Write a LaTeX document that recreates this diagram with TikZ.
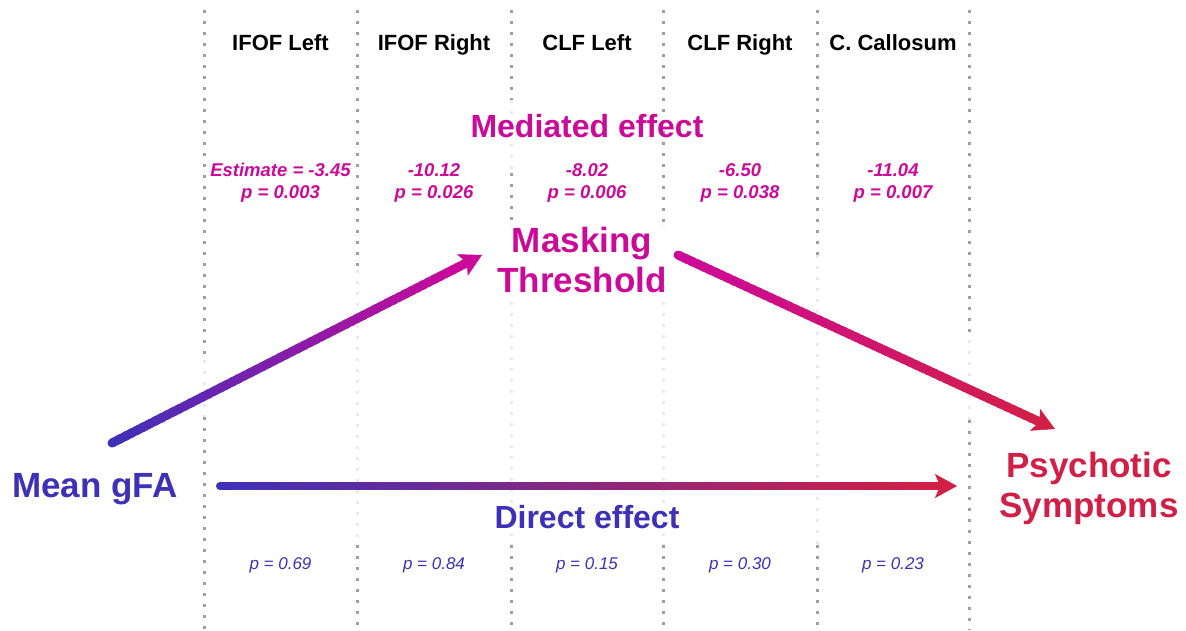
\documentclass[tikz,border=0pt]{standalone}
\usepackage{fontspec}
\setmainfont{Liberation Sans}
\usetikzlibrary{arrows.meta,calc}
\definecolor{mag}{HTML}{CC0A9A}
\definecolor{blu}{HTML}{3F30B8}
\definecolor{crim}{HTML}{D21F47}
\definecolor{dotc}{HTML}{A898AC}
\definecolor{dotf}{HTML}{ECE8EE}
\newcommand{\gradarrow}[5]{%
  \coordinate (tmpend) at ($(#2)!15pt!(#1)$);
  \fill[#3] (#1) circle[radius=#5/2];
  \foreach \i in {0,...,59}{%
    \pgfmathsetmacro\ta{\i/60}%
    \pgfmathsetmacro\tb{min((\i+1.6)/60,1)}%
    \pgfmathtruncatemacro\pc{100-100*\i/59}%
    \draw[line width=#5pt, color=#3!\pc!#4, line cap=butt] ($(#1)!\ta!(tmpend)$) -- ($(#1)!\tb!(tmpend)$);
  }
  \draw[#4, line width=0.5pt, -{Stealth[length=22pt,width=24pt,inset=5pt]}] ($(#2)!24pt!(#1)$) -- (#2);
}
\begin{document}
\begin{tikzpicture}[x=1pt,y=-1pt,
  dark/.style={dotc, line width=3pt, dash pattern=on 3pt off 8pt},
  faint/.style={dotf, line width=3pt, dash pattern=on 3pt off 8pt},
  headtxt/.style={font=\fontsize{22}{26}\selectfont\bfseries, anchor=base, inner sep=0pt},
  bigtxt/.style={font=\fontsize{35}{40}\selectfont\bfseries, align=center, inner sep=1pt},
  efftxt/.style={font=\fontsize{32}{36}\selectfont\bfseries, anchor=base, inner sep=0pt},
  esttxt/.style={mag, font=\fontsize{18.5}{22}\selectfont\bfseries\itshape, align=center, inner sep=0pt},
  ptxt/.style={blu, font=\fontsize{17}{20}\selectfont\itshape, anchor=base, inner sep=0pt}
]
\useasboundingbox (0,0) rectangle (1186,630);
% dotted column separators
\foreach \x/\ya/\yb/\st in {
  204/10/360/dark, 204/360/417/faint, 204/417/630/dark,
  357/10/270/dark, 357/270/545/faint, 357/545/630/dark,
  511/10/100/dark, 511/100/173/faint, 511/173/225/dark, 511/225/545/faint, 511/545/630/dark,
  663/10/225/dark, 663/225/545/faint, 663/545/630/dark,
  817/10/255/dark, 817/255/545/faint, 817/545/630/dark,
  969/10/340/dark, 969/340/420/faint, 969/420/630/dark}
  \draw[\st] (\x,\ya) -- (\x,\yb);
% headers
\node[headtxt] (h1) at (280.5,50) {IFOF Left};
\node[headtxt] (h2) at (434,50) {IFOF Right};
\node[headtxt] (h3) at (587,50) {CLF Left};
\node[headtxt] (h4) at (740,50) {CLF Right};
\node[headtxt] (h5) at (893,50) {C. Callosum};
% mediated effect
\node[efftxt, mag] (med) at (587,137) {Mediated effect};
\node[esttxt] (e1) at (280.5,182.5) {Estimate = -3.45\\p = 0.003};
\node[esttxt] (e2) at (434,182.5) {-10.12\\p = 0.026};
\node[esttxt] (e3) at (587,182.5) {-8.02\\p = 0.006};
\node[esttxt] (e4) at (740,182.5) {-6.50\\p = 0.038};
\node[esttxt] (e5) at (893,182.5) {-11.04\\p = 0.007};
% main nodes
\node[bigtxt, mag, fill=white] (mask) at (582,260) {Masking\\Threshold};
\node[bigtxt, blu, anchor=base] (gfa) at (95,497) {Mean gFA};
\node[bigtxt, crim] (psy) at (1089,488) {Psychotic\\Symptoms};
% direct effect
\node[efftxt, blu] (dir) at (587,528) {Direct effect};
\node[ptxt] (p1) at (280.5,569) {p = 0.69};
\node[ptxt] (p2) at (434,569) {p = 0.84};
\node[ptxt] (p3) at (587,569) {p = 0.15};
\node[ptxt] (p4) at (740,569) {p = 0.30};
\node[ptxt] (p5) at (893,569) {p = 0.23};
% arrows
\coordinate (a1s) at (112,443); \coordinate (a1e) at (482,255);
\coordinate (a2s) at (678,255); \coordinate (a2e) at (1055,429);
\coordinate (a3s) at (220,486); \coordinate (a3e) at (957,486);
\gradarrow{a1s}{a1e}{blu}{mag}{9}
\gradarrow{a2s}{a2e}{mag}{crim}{9}
\gradarrow{a3s}{a3e}{blu}{crim}{8}
\end{tikzpicture}
\end{document}
